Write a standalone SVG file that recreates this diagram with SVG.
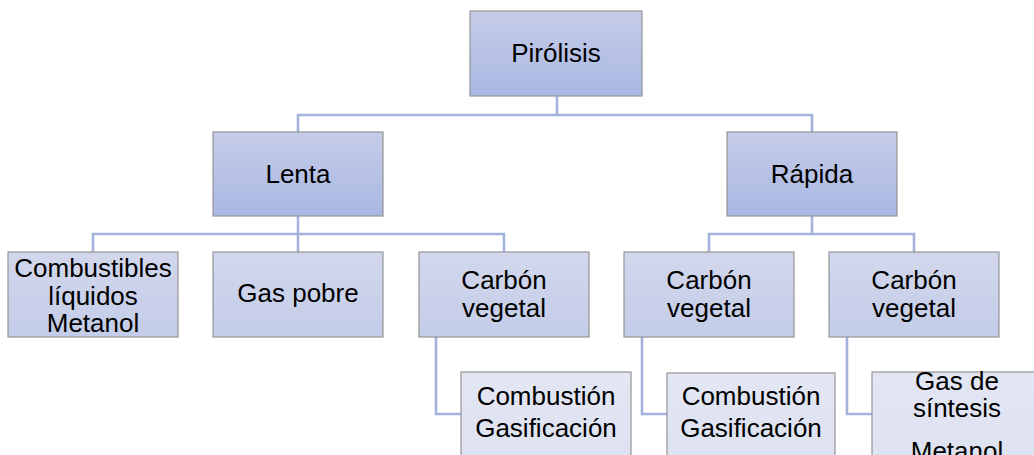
<svg xmlns="http://www.w3.org/2000/svg" width="1034" height="455" viewBox="0 0 1034 455">
  <defs>
    <linearGradient id="gTop" x1="0" y1="0" x2="0" y2="1">
      <stop offset="0" stop-color="#c6cce8"/>
      <stop offset="1" stop-color="#a8b8e2"/>
    </linearGradient>
    <linearGradient id="gMid" x1="0" y1="0" x2="0" y2="1">
      <stop offset="0" stop-color="#d2d7ec"/>
      <stop offset="1" stop-color="#c3cce8"/>
    </linearGradient>
    <linearGradient id="gLow" x1="0" y1="0" x2="0" y2="1">
      <stop offset="0" stop-color="#e3e6f3"/>
      <stop offset="1" stop-color="#dde2f1"/>
    </linearGradient>
    <style>
      .box { stroke: #959595; stroke-width: 1.2; }
      .l1 { fill: url(#gTop); }
      .l2 { fill: url(#gMid); }
      .l3 { fill: url(#gLow); }
      .conn { fill: none; stroke: #a3b3de; stroke-width: 2.6; }
      text { font-family: "Liberation Sans", Arial, sans-serif; font-size: 26px; fill: #000; text-anchor: middle; }
    </style>
  </defs>

  <rect width="1034" height="455" fill="#ffffff"/>

  <!-- connectors -->
  <g id="connectors">
    <path class="conn" d="M557 96 V115 M298 132 V115 H812 V132"/>
    <path class="conn" d="M298 216 V234 M93 252 V234 H504 V252 M298 234 V252"/>
    <path class="conn" d="M812 216 V234 M709 252 V234 H914 V252"/>
    <path class="conn" d="M436 337 V414 H461"/>
    <path class="conn" d="M642 337 V414 H667"/>
    <path class="conn" d="M847 337 V414 H872"/>
  </g>

  <!-- root -->
  <g id="pirolisis">
    <rect class="box l1" x="470" y="11" width="172" height="85"/>
    <text x="556" y="62">Pirólisis</text>
  </g>

  <!-- second level -->
  <g id="lenta">
    <rect class="box l1" x="213" y="132" width="170" height="84"/>
    <text x="298" y="183">Lenta</text>
  </g>
  <g id="rapida">
    <rect class="box l1" x="727" y="132" width="170" height="84"/>
    <text x="812" y="183">Rápida</text>
  </g>

  <!-- third level -->
  <g id="combustibles">
    <rect class="box l2" x="8" y="252" width="170" height="85"/>
    <text x="93" y="277">Combustibles</text>
    <text x="93" y="305">líquidos</text>
    <text x="93" y="332">Metanol</text>
  </g>
  <g id="gas-pobre">
    <rect class="box l2" x="213" y="252" width="170" height="85"/>
    <text x="298" y="302">Gas pobre</text>
  </g>
  <g id="carbon-lenta">
    <rect class="box l2" x="419" y="252" width="170" height="85"/>
    <text x="504" y="289">Carbón</text>
    <text x="504" y="317">vegetal</text>
  </g>
  <g id="carbon-rapida-1">
    <rect class="box l2" x="624" y="252" width="170" height="85"/>
    <text x="709" y="289">Carbón</text>
    <text x="709" y="317">vegetal</text>
  </g>
  <g id="carbon-rapida-2">
    <rect class="box l2" x="829" y="252" width="170" height="85"/>
    <text x="914" y="289">Carbón</text>
    <text x="914" y="317">vegetal</text>
  </g>

  <!-- fourth level -->
  <g id="usos-lenta">
    <rect class="box l3" x="461" y="372" width="170" height="90"/>
    <text x="546" y="405">Combustión</text>
    <text x="546" y="437">Gasificación</text>
  </g>
  <g id="usos-rapida-1">
    <rect class="box l3" x="667" y="373" width="168" height="90"/>
    <text x="751" y="405">Combustión</text>
    <text x="751" y="437">Gasificación</text>
  </g>
  <g id="usos-rapida-2">
    <rect class="box l3" x="872" y="372" width="170" height="90"/>
    <text x="957" y="390">Gas de</text>
    <text x="957" y="417">síntesis</text>
    <text x="957" y="460">Metanol</text>
  </g>
</svg>
